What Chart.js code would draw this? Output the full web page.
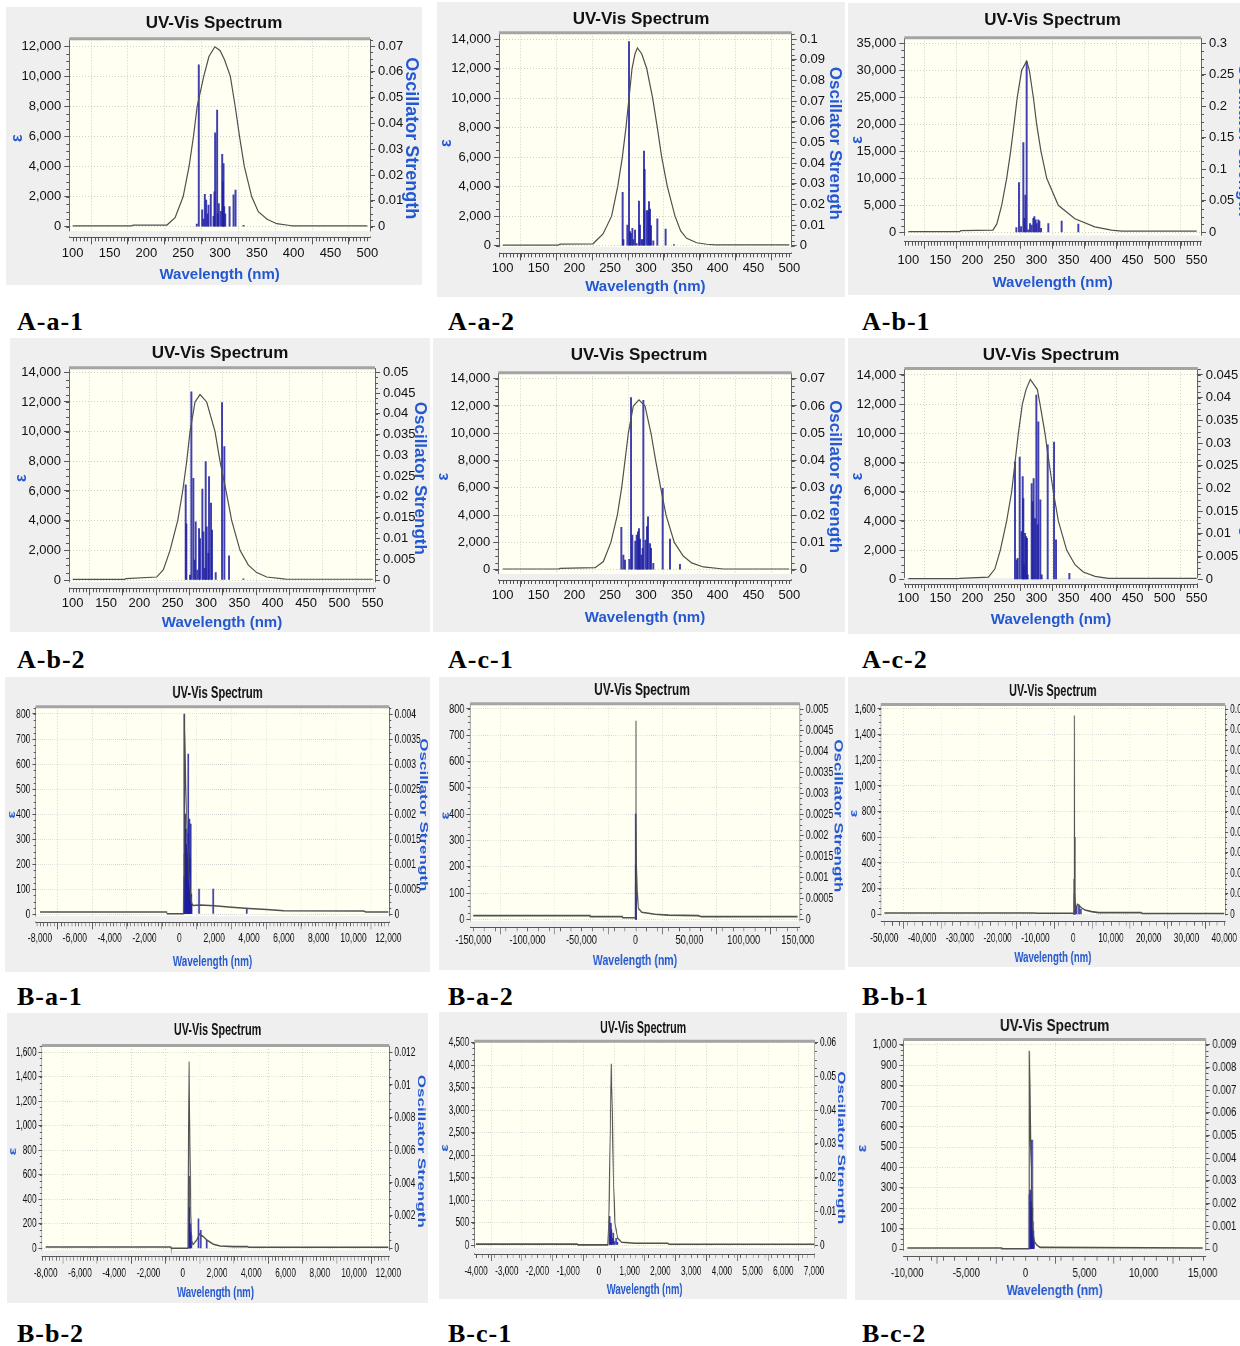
<!DOCTYPE html>
<html>
<head>
<meta charset="utf-8">
<script src="https://cdn.jsdelivr.net/npm/chart.js@4.4.1/dist/chart.umd.min.js"></script>
<style>
html, body { margin: 0; padding: 0; background: #fff; width: 1240px; height: 1346px; overflow: hidden; position: relative; }
.panel { position: absolute; }
.panel canvas { display: block; transform-origin: 0 0; }
.lbl { position: absolute; font: bold 26px 'Liberation Serif', 'Times New Roman', serif; letter-spacing: 1px; line-height: 26px; color: #000; }
</style>
</head>
<body>
<script>
// ---- data: spectrum curve (wavelength nm, epsilon) and sticks (wavelength nm, oscillator strength) ----
// A-a-1
const aa1CurveNm = [100,180,182,228,239,250,258,264,269,278,285,293,300,306,314,320.6,326.5,333,343,352,364,377,395,398,500];
const aa1CurveEps = [50,50,100,110,600,2000,4000,6000,8000,10000,11300,11950,11700,11100,10000,8000,6000,4000,2000,1000,500,200,80,50,50];
const aa1StickNm = [268.5,271.2,275.8,277.6,279.4,281.2,283,284.4,287.5,291.2,292.5,293.4,296.1,297,298.4,301.1,303,303.9,304.8,305.7,307.1,313,318.4,321.1,332];
const aa1StickF = [0.001,0.0627,0.0065,0.003,0.0125,0.0103,0.005,0.0084,0.0125,0.004,0.0135,0.0364,0.0452,0.005,0.009,0.006,0.028,0.0174,0.0245,0.0078,0.005,0.0078,0.0123,0.0142,0.0005];
// A-a-2
const aa2CurveNm = [100,178,180,226,240,252,260.5,267,272,276.3,280.5,284.7,288,294,301,309.3,315.8,321.9,329.8,340.5,348.4,356.7,370.7,384.7,396,500];
const aa2CurveEps = [45,45,110,130,800,2000,4000,6000,8000,10000,12000,13000,13400,13000,12000,10000,8000,6000,4000,2000,1000,500,200,100,50,50];
const aa2StickNm = [267.4,268.4,274,276.3,277.7,279,281,282.3,284.7,287,290.2,291.6,294,295.3,297.2,298.1,300.9,302.8,304.2,305.6,307,310.2,315.8,327.4,339];
const aa2StickF = [0.0258,0.003,0.01,0.0987,0.0068,0.006,0.0084,0.003,0.0076,0.001,0.0216,0.01,0.003,0.003,0.0458,0.037,0.017,0.017,0.0213,0.0177,0.0097,0.0023,0.013,0.008,0.0005];
// A-b-1
const ab1CurveNm = [100,180,182,232,238,245.7,253.5,259.7,265,270,276.9,284.7,288.9,295.1,300.3,307,316,334,360,391,417,433,550];
const ab1CurveEps = [120,120,300,400,1500,5000,10000,15000,20000,25000,30000,31700,30000,25000,20000,15000,10000,5000,2500,1000,400,200,200];
const ab1StickNm = [268.6,272.7,275.9,279.5,281.1,282.6,284.7,287.3,289.9,292.5,295.1,296.7,298.8,300.3,302.9,304.5,307.1,318.5,339.3,365.3];
const ab1StickF = [0.0074,0.0788,0.009,0.1423,0.022,0.059,0.271,0.004,0.014,0.0116,0.022,0.025,0.0196,0.014,0.0196,0.018,0.0063,0.014,0.018,0.013];
// A-b-2
const ab2CurveNm = [100,178,180,226,236,246,257.5,265,271,276,283.5,291,301,313.5,321,330,338.5,351,363.5,376,391,416,420,550];
const ab2CurveEps = [45,45,90,200,700,2000,4000,6000,8000,10000,12000,12500,12000,10000,8000,6000,4000,2000,1000,500,200,80,50,50];
const ab2StickNm = [269.5,270.5,276,278,281,283,284.5,287,289.5,291,294.5,296,298,299.5,301,303.5,304.5,307.5,309,314.5,324,327.5,334.5,356];
const ab2StickF = [0.0229,0.0135,0.0012,0.0453,0.0245,0.0048,0.014,0.0024,0.0124,0.01,0.0219,0.0116,0.0028,0.0285,0.0128,0.0064,0.0249,0.0185,0.012,0.0018,0.0427,0.0321,0.0058,0.0003];
// A-c-1
const ac1CurveNm = [100,178,180,229,240.5,251,260,266,270.7,275.3,282.3,290.2,298.6,307,313.5,320.5,328,339.5,352,363.7,380,408,500];
const ac1CurveEps = [50,50,100,150,600,2000,4000,6000,8000,10000,12000,12450,12000,10000,8000,6000,4000,2000,1000,500,200,50,50];
const ac1StickNm = [265.6,268.4,270.7,276.7,279.1,280.9,285.1,287,288.8,290.2,291.6,293.5,295.3,296.3,299.1,301.4,302.8,305.6,307,310.2,323.3,333.5,347.4];
const ac1StickF = [0.0155,0.0054,0.0035,0.0038,0.0631,0.0127,0.0105,0.0127,0.0139,0.0151,0.0112,0.0054,0.0078,0.0621,0.0109,0.0158,0.0194,0.0096,0.0078,0.0023,0.0298,0.0112,0.002];
// A-c-2
const ac2CurveNm = [100,178,180,225,235,243.6,253.5,261.3,266.5,271.7,278,283.7,290.4,301.4,305.5,313.3,319.6,326.3,334.1,347.1,360.1,373,391.4,412,550];
const ac2CurveEps = [40,40,70,150,700,2000,4000,6000,8000,10000,12000,13000,13700,13000,12000,10000,8000,6000,4000,2000,1000,500,200,60,60];
const ac2StickNm = [266.5,269.1,270.7,273.8,276.9,278.5,279.5,280.5,282.1,283.7,285.2,286.3,292.5,294.1,295.6,297.7,299.8,301.9,302.9,306,308.1,317.5,327.4,330.5,351.3];
const ac2StickF = [0.0259,0.0043,0.0046,0.0269,0.0105,0.0226,0.0178,0.0032,0.0101,0.0094,0.009,0.001,0.0211,0.0171,0.0222,0.0134,0.0406,0.012,0.0347,0.0175,0.001,0.0296,0.0302,0.0087,0.0013];
// B-a-1
const ba1CurveNm = [-8000,-730,-700,240,265,287,320,360,420,480,560,640,700,800,1200,2000,3000,4000,5000,6000,10600,10700,12000];
const ba1CurveEps = [8,8,1,1,150,800,700,520,380,270,150,80,45,34,36,33,27,22,18,13,12,8,8];
const ba1StickNm = [290,300,315,330,345,360,380,400,420,440,460,480,500,517,540,560,574,600,620,650,680,700,1130,1950,3870];
const ba1StickF = [0.004,0.0012,0.0015,0.002,0.0011,0.0017,0.0013,0.0009,0.0014,0.0008,0.0012,0.0016,0.001,0.0032,0.0012,0.0009,0.0019,0.0007,0.0011,0.0018,0.0004,0.0002,0.0005,0.0005,0.0001];
// B-a-2
const ba2CurveNm = [-150000,-42000,-41900,-12000,-11900,250,300,600,1000,1500,2600,5700,11900,18000,30400,58000,61000,150000];
const ba2CurveEps = [14,14,10,10,6,6,755,400,200,110,42,27,23,19,16,14,10,10];
const ba2StickNm = [300,330,360,400,450,500];
const ba2StickF = [0.0025,0.0013,0.0008,0.0005,0.0003,0.0002];
// B-b-1
const bb1CurveNm = [-50000,-10000,-9900,-400,250,300,400,500,600,800,1100,1500,2200,3100,4900,6700,18000,18200,40000];
const bb1CurveEps = [10,10,8,8,5,1550,600,150,40,45,78,70,50,34,21,13,13,6,6];
const bb1StickNm = [300,330,380,450,900,1500,2000];
const bb1StickF = [0.0034,0.002,0.001,0.0006,0.0008,0.0009,0.0005];
// B-b-2
const bb2CurveNm = [-8000,-690,-680,300,370,420,470,520,600,817,973,1206,1400,1790,2180,2960,3800,3830,12000];
const bb2CurveEps = [11,11,1,1,1524,800,300,60,30,68,117,95,68,33,19,14,14,8,8];
const bb2StickNm = [370,390,420,450,500,914,1050,1400];
const bb2StickF = [0.0044,0.0025,0.0015,0.001,0.0008,0.0018,0.0011,0.0005];
// B-c-1
const bc1CurveNm = [-4000,-700,-690,290,328,371,403,440,469,523,610,740,1175,2250,2270,7000];
const bc1CurveEps = [20,20,3,3,780,2630,4030,2800,1520,480,150,60,40,40,18,18];
const bc1StickNm = [350,370,390,410,440,470,500,560,600];
const bc1StickF = [0.0085,0.003,0.0064,0.0045,0.002,0.0035,0.001,0.002,0.0008];
// B-c-2
const bc2CurveNm = [-10000,-2000,-1990,280,327,380,440,525,610,750,950,1230,15000];
const bc2CurveEps = [5,5,1,1,972,800,520,390,110,36,20,8,5];
const bc2StickNm = [330,360,400,430,460,500,530,553,580,620,660,700];
const bc2StickF = [0.0024,0.002,0.0026,0.0018,0.0015,0.0021,0.0014,0.0048,0.0018,0.0012,0.0008,0.0004];

// ---- layout of the 12 panels (page pixels) ----
const panels = [
  {label:'A-a-1', nm:aa1CurveNm, eps:aa1CurveEps, sNm:aa1StickNm, sF:aa1StickF,
   box:[6,7,416,278], area:[69.3,39.3,370,237.3], xMap:[100,72.7,500,367.3], yMap:[226.7,12000,46], y2Top:0.07,
   xStep:50, xDiv:10, yStep:2000, y2Step:0.01, titleY:23, tickY:253, xTitleY:275, epsX:18, rTitleX:412.7, rSize:18},
  {label:'A-a-2', nm:aa2CurveNm, eps:aa2CurveEps, sNm:aa2StickNm, sF:aa2StickF,
   box:[437,2,408,295], area:[499,33.3,791.7,253.3], xMap:[100,502.7,500,789.3], yMap:[245.7,14000,39], y2Top:0.1,
   xStep:50, xDiv:10, yStep:2000, y2Step:0.01, titleY:19.3, tickY:268.3, xTitleY:286.7, epsX:446, rTitleX:835, rSize:17},
  {label:'A-b-1', nm:ab1CurveNm, eps:ab1CurveEps, sNm:ab1StickNm, sF:ab1StickF, cut:true,
   box:[848,3,440,292], area:[904.3,38.3,1201,241.7], xMap:[100,908.3,550,1196.7], yMap:[232.3,35000,43.3], y2Top:0.3,
   xStep:50, xDiv:10, yStep:5000, y2Step:0.05, titleY:20, tickY:260, xTitleY:283.3, epsX:856.7, rTitleX:1244, rSize:17},
  {label:'A-b-2', nm:ab2CurveNm, eps:ab2CurveEps, sNm:ab2StickNm, sF:ab2StickF,
   box:[10,338,420,294], area:[69,368.3,375,588.3], xMap:[100,72.7,550,372.7], yMap:[580,14000,372.3], y2Top:0.05,
   xStep:50, xDiv:10, yStep:2000, y2Step:0.005, titleY:353.3, tickY:603.3, xTitleY:623.3, epsX:21.7, rTitleX:422.7, rSize:17},
  {label:'A-c-1', nm:ac1CurveNm, eps:ac1CurveEps, sNm:ac1StickNm, sF:ac1StickF,
   box:[433,338,412,294], area:[498.3,373.3,791.7,580], xMap:[100,502.7,500,789.3], yMap:[569.7,14000,378.7], y2Top:0.07,
   xStep:50, xDiv:10, yStep:2000, y2Step:0.01, titleY:355, tickY:595, xTitleY:618.3, epsX:443.3, rTitleX:835, rSize:17},
  {label:'A-c-2', nm:ac2CurveNm, eps:ac2CurveEps, sNm:ac2StickNm, sF:ac2StickF, cut:true,
   box:[848,338,430,296], area:[904.3,369,1197.7,584], xMap:[100,908.3,550,1196.7], yMap:[579.3,14000,375], y2Top:0.045,
   xStep:50, xDiv:10, yStep:2000, y2Step:0.005, titleY:355, tickY:598.3, xTitleY:620, epsX:857.7, rTitleX:1247, rSize:17},
  {label:'B-a-1', nm:ba1CurveNm, eps:ba1CurveEps, sNm:ba1StickNm, sF:ba1StickF, sx:0.66,
   box:[5,677,425,295], area:[35.7,707.3,389.3,922.3], xMap:[-8000,40,12000,388.3], yMap:[914,800,714], y2Top:0.004,
   xStep:2000, xDiv:10, yStep:100, y2Step:0.0005, titleY:693.3, tickY:938.3, xTitleY:961.7, epsX:11.7, rTitleX:425, rSize:17},
  {label:'B-a-2', nm:ba2CurveNm, eps:ba2CurveEps, sNm:ba2StickNm, sF:ba2StickF, sx:0.7,
   box:[439,677,406,293], area:[470,704.3,800,927.3], xMap:[-150000,473.3,150000,797.7], yMap:[919.3,800,709], y2Top:0.005,
   xStep:50000, xDiv:5, yStep:100, y2Step:0.0005, titleY:690, tickY:940, xTitleY:961, epsX:443.3, rTitleX:838.3, rSize:17},
  {label:'B-b-1', nm:bb1CurveNm, eps:bb1CurveEps, sNm:bb1StickNm, sF:bb1StickF, sx:0.64, cut:true,
   box:[848,677,440,290], area:[880.7,705,1225,921.7], xMap:[-50000,884.3,40000,1224.3], yMap:[914.3,1600,709], y2Top:0.02,
   xStep:10000, xDiv:5, yStep:200, y2Step:0.002, titleY:691.7, tickY:938.3, xTitleY:958.3, epsX:853.3, rTitleX:1275, rSize:17},
  {label:'B-b-2', nm:bb2CurveNm, eps:bb2CurveEps, sNm:bb2StickNm, sF:bb2StickF, sx:0.64,
   box:[7,1013,421,290], area:[41.7,1046,389.3,1256.7], xMap:[-8000,45.7,12000,388.3], yMap:[1248.3,1600,1052.3], y2Top:0.012,
   xStep:2000, xDiv:10, yStep:200, y2Step:0.002, titleY:1030, tickY:1273.3, xTitleY:1293.3, epsX:12.7, rTitleX:420.7, rSize:17},
  {label:'B-c-1', nm:bc1CurveNm, eps:bc1CurveEps, sNm:bc1StickNm, sF:bc1StickF, sx:0.63,
   box:[439,1012,408,287], area:[474.3,1041.7,815,1254], xMap:[-4000,476,7000,814], yMap:[1245,4500,1042.7], y2Top:0.06,
   xStep:1000, xDiv:5, yStep:500, y2Step:0.01, titleY:1028.3, tickY:1271.7, xTitleY:1290, epsX:445, rTitleX:841, rSize:17},
  {label:'B-c-2', nm:bc2CurveNm, eps:bc2CurveEps, sNm:bc2StickNm, sF:bc2StickF, sx:0.8, cut:true, tickSize:12,
   box:[855,1013,420,287], area:[903.3,1040,1206,1256.7], xMap:[-10000,907.3,15000,1202.7], yMap:[1249,1000,1045], y2Top:0.009,
   xStep:5000, xDiv:5, yStep:100, y2Step:0.001, titleY:1026.7, tickY:1273.3, xTitleY:1291.7, epsX:862.7, rTitleX:1262, rSize:17}
];
const labelPos = [[17,309],[448,309],[862,309],[17,647],[448,647],[862,647],[17,984],[448,984],[862,984],[17,1321],[448,1321],[862,1321]];

const FONT = "'Liberation Sans', Arial, sans-serif";
const BLUE = '#2458d0';
const PANEL_BG = '#efefef';
Chart.defaults.font.family = FONT;
Chart.defaults.color = '#111';

// major ticks at whole multiples of the step inside the axis range
function stepTicks(step) {
  return scale => {
    const out = [];
    const first = Math.ceil(scale.min / step - 1e-9);
    for (let k = first; k * step <= scale.max + step * 1e-9; k++) {
      out.push({ value: +(k * step).toFixed(10) });
    }
    scale.ticks = out;
  };
}

// minor ticks, cream plot area and the grey top frame
const framePlugin = {
  id: 'frame',
  beforeDraw(chart) {
    const {ctx, chartArea: a} = chart;
    ctx.save();
    ctx.fillStyle = PANEL_BG;
    ctx.fillRect(0, 0, chart.width, chart.height);
    ctx.fillStyle = '#fffff2';
    ctx.fillRect(a.left, a.top, a.right - a.left, a.bottom - a.top - 6);
    ctx.restore();
  },
  beforeDatasetsDraw(chart) {
    const {ctx, chartArea: a} = chart;
    ctx.save();
    ctx.fillStyle = PANEL_BG;
    ctx.fillRect(a.left - 1, a.bottom - 6, a.right - a.left + 2, 5.2);
    ctx.restore();
  },
  afterDraw(chart, args, o) {
    const {ctx, chartArea: a, scales} = chart;
    ctx.save();
    ctx.strokeStyle = '#555';
    ctx.lineWidth = 1;
    ctx.beginPath();
    const xs = scales.x, xm = o.xStep / o.xDiv;
    for (let k = Math.ceil(xs.min / xm); k * xm <= xs.max; k++) {
      const px = Math.round(xs.getPixelForValue(k * xm)) + 0.5;
      ctx.moveTo(px, a.bottom); ctx.lineTo(px, a.bottom + 4);
    }
    const ys = scales.y, ym = o.yStep / 4;
    for (let k = 0; k * ym <= ys.max; k++) {
      const py = Math.round(ys.getPixelForValue(k * ym)) + 0.5;
      ctx.moveTo(a.left - 3, py); ctx.lineTo(a.left, py);
    }
    const y2 = scales.y2, y2m = o.y2Step / 4;
    for (let k = 0; k * y2m <= y2.max + 1e-12; k++) {
      const py = Math.round(y2.getPixelForValue(k * y2m)) + 0.5;
      ctx.moveTo(a.right, py); ctx.lineTo(a.right + 3, py);
    }
    ctx.stroke();
    ctx.strokeStyle = '#a4a4a4';
    ctx.lineWidth = 3;
    ctx.beginPath();
    ctx.moveTo(a.left, a.top - 0.5); ctx.lineTo(a.right, a.top - 0.5);
    ctx.stroke();
    ctx.restore();
  }
};

function build(p, i) {
  const sx = p.sx || 1;
  const [bx, by, bw, bh] = p.box;
  const W = Math.round(bw / sx), H = bh;
  const rx = v => (v - bx) / sx, ry = v => v - by;
  const L = rx(p.area[0]), T = ry(p.area[1]), R = rx(p.area[2]), B = ry(p.area[3]);

  const kx = (p.xMap[3] - p.xMap[1]) / (p.xMap[2] - p.xMap[0]);
  const xMin = p.xMap[0] - (p.xMap[1] - p.area[0]) / kx;
  const xMax = p.xMap[2] + (p.area[2] - p.xMap[3]) / kx;
  const ky = (p.yMap[0] - p.yMap[2]) / p.yMap[1];
  const yMin = -(p.area[3] - p.yMap[0]) / ky;
  const yMax = p.yMap[1] + (p.yMap[2] - p.area[1]) / ky;
  const r2 = p.y2Top / p.yMap[1];

  const tickSize = p.tickSize || 13;
  const tickLen = 7;
  const titleLH = 17 * 1.2;
  const titleTop = Math.max(0, ry(p.titleY) - titleLH / 2);
  const xtLH = 15 * 1.2;
  const rLH = p.rSize * 1.2;
  const epsLH = 16 * 1.2;

  const wrap = document.createElement('div');
  wrap.className = 'panel';
  wrap.style.left = bx + 'px';
  wrap.style.top = by + 'px';
  const cv = document.createElement('canvas');
  cv.width = W; cv.height = H;
  cv.style.transform = 'scaleX(' + sx + ')';
  wrap.appendChild(cv);
  document.body.appendChild(wrap);

  const lbl = document.createElement('div');
  lbl.className = 'lbl';
  lbl.textContent = p.label;
  lbl.style.left = labelPos[i][0] + 'px';
  lbl.style.top = labelPos[i][1] + 'px';
  document.body.appendChild(lbl);

  const curve = p.nm.map((x, k) => ({x: x, y: p.eps[k]}));
  const sticks = p.sNm.map((x, k) => ({x: x, y: p.sF[k]}));
  const fmt = v => v.toLocaleString('en-US');

  new Chart(cv.getContext('2d'), {
    type: 'bar',
    data: {
      datasets: [
        { type: 'line', data: curve, yAxisID: 'y', borderColor: '#505050', borderWidth: sx < 1 ? 1.6 : 1.2,
          pointRadius: 0, tension: 0, order: 0 },
        { type: 'bar', data: sticks, yAxisID: 'y2', backgroundColor: 'rgba(30,30,165,0.85)',
          barThickness: sx < 1 ? 2 : 1.3, grouped: false, order: 1 }
      ]
    },
    options: {
      responsive: false,
      animation: false,
      events: [],
      layout: { padding: 0 },
      plugins: {
        legend: { display: false },
        tooltip: { enabled: false },
        title: { display: true, text: 'UV-Vis Spectrum', color: '#111', fullSize: !p.cut,
                 font: { size: 17, weight: 'bold' },
                 padding: { top: titleTop, bottom: Math.max(0, T - titleLH - titleTop) } },
        frame: { xStep: p.xStep, xDiv: p.xDiv, yStep: p.yStep, y2Step: p.y2Step }
      },
      scales: {
        x: {
          type: 'linear', position: 'bottom', offset: false, min: xMin, max: xMax,
          afterFit: s => { s.height = H - B; },
          afterBuildTicks: stepTicks(p.xStep),
          ticks: { autoSkip: false, maxRotation: 0,
                   font: { size: tickSize }, color: '#111', callback: fmt,
                   padding: ry(p.tickY) - B - tickLen - tickSize * 0.6 },
          grid: { color: '#cfcfcf', tickColor: '#555', tickLength: tickLen, drawTicks: true },
          border: { display: true, color: '#555', width: 1, dash: [1, 2] },
          title: { display: true, text: 'Wavelength (nm)', color: BLUE, font: { size: 15, weight: 'bold' },
                   padding: { top: 0, bottom: Math.max(0, H - ry(p.xTitleY) - xtLH / 2) } }
        },
        y: {
          type: 'linear', position: 'left', min: yMin, max: yMax,
          afterFit: s => { s.width = L; },
          afterBuildTicks: stepTicks(p.yStep),
          ticks: { autoSkip: false, font: { size: tickSize }, color: '#111', callback: fmt, padding: 3 },
          grid: { color: '#cfcfcf', tickColor: '#555', tickLength: 5, drawTicks: true },
          border: { display: true, color: '#666', width: 1, dash: [1, 2] },
          title: { display: true, text: 'ε', color: BLUE, font: { size: 16, weight: 'bold' },
                   padding: { top: Math.max(0, rx(p.epsX) - epsLH / 2), bottom: 0 } }
        },
        y2: {
          type: 'linear', position: 'right', min: yMin * r2, max: yMax * r2,
          afterFit: s => { s.width = W - R; },
          afterBuildTicks: stepTicks(p.y2Step),
          ticks: { autoSkip: false, font: { size: tickSize }, color: '#111',
                   callback: v => (v === 0 ? '0' : String(+v.toFixed(6))), padding: 3 },
          grid: { drawOnChartArea: false, tickColor: '#555', tickLength: 5, drawTicks: true },
          border: { display: true, color: '#666', width: 1 },
          title: { display: true, text: 'Oscillator Strength', color: BLUE, font: { size: p.rSize, weight: 'bold' },
                   padding: { top: Math.max(0, W - rx(p.rTitleX) - rLH / 2), bottom: 0 } }
        }
      }
    },
    plugins: [framePlugin]
  });
}

panels.forEach(build);
</script>
</body>
</html>
